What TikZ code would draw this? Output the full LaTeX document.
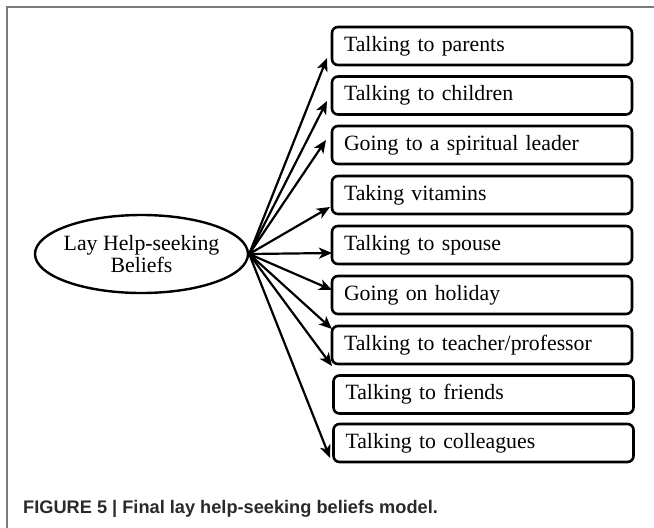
\documentclass[tikz,border=0pt]{standalone}
\usepackage{fontspec}
\setmainfont{Liberation Serif}
\newfontfamily\capfont{Liberation Sans}
\usetikzlibrary{arrows.meta,shapes.geometric}
\definecolor{framegray}{HTML}{7A7A7A}
\definecolor{capgray}{HTML}{2A2A2A}
\tikzset{
  itembox/.style={draw=black, line width=2.6pt, rounded corners=6pt,
    minimum width=300pt, minimum height=38pt, text width=276pt, inner xsep=12pt,
    align=left, text height=15pt, text depth=5pt,
    font=\fontsize{21.8}{24}\selectfont},
  arr/.style={draw=black, line width=2.2pt,
    -{Stealth[length=13pt,width=11pt,inset=3.5pt]}},
  oval/.style={draw=black, line width=2.4pt, ellipse,
    minimum width=213pt, minimum height=78pt, inner sep=0pt},
}
\begin{document}
\begin{tikzpicture}[x=1pt,y=-1pt]
\useasboundingbox (0,0) rectangle (654,528);
% frame
\draw[framegray, line width=1.6pt] (7,528) -- (7,7) -- (654,7);
% ellipse
\node[oval] (lay) at (141.5,254) {};
\node[align=center, font=\fontsize{21.8}{22.5}\selectfont] (laytext) at (lay.center) {Lay Help-seeking\\Beliefs};
% boxes
\node[itembox] (b1) at (482,46) {Talking to parents};
\node[itembox] (b2) at (482,95.5) {Talking to children};
\node[itembox] (b3) at (482,145) {Going to a spiritual leader};
\node[itembox] (b4) at (482,195) {Taking vitamins};
\node[itembox] (b5) at (482,245) {Talking to spouse};
\node[itembox] (b6) at (482,295) {Going on holiday};
\node[itembox] (b7) at (482,345) {Talking to teacher/professor};
\node[itembox] (b8) at (483.5,394.5) {Talking to friends};
\node[itembox] (b9) at (483.5,443) {Talking to colleagues};
% arrow ends
\coordinate (e1) at (327,58);
\coordinate (e2) at (327,101);
\coordinate (e3) at (326,140);
\coordinate (e4) at (330,207);
\coordinate (e5) at (332,253);
\coordinate (e6) at (332,290);
\coordinate (e7) at (332,329);
\coordinate (e8) at (332,366);
\coordinate (e9) at (330,458);
\foreach \i in {1,...,9} { \draw[arr] (lay.east) -- (e\i); }
% caption
\node[anchor=base west, inner sep=0pt, text=capgray, font=\capfont\bfseries\fontsize{18.2}{20}\selectfont] (cap) at (23,513) {FIGURE 5 | Final lay help-seeking beliefs model.};
\end{tikzpicture}
\end{document}
